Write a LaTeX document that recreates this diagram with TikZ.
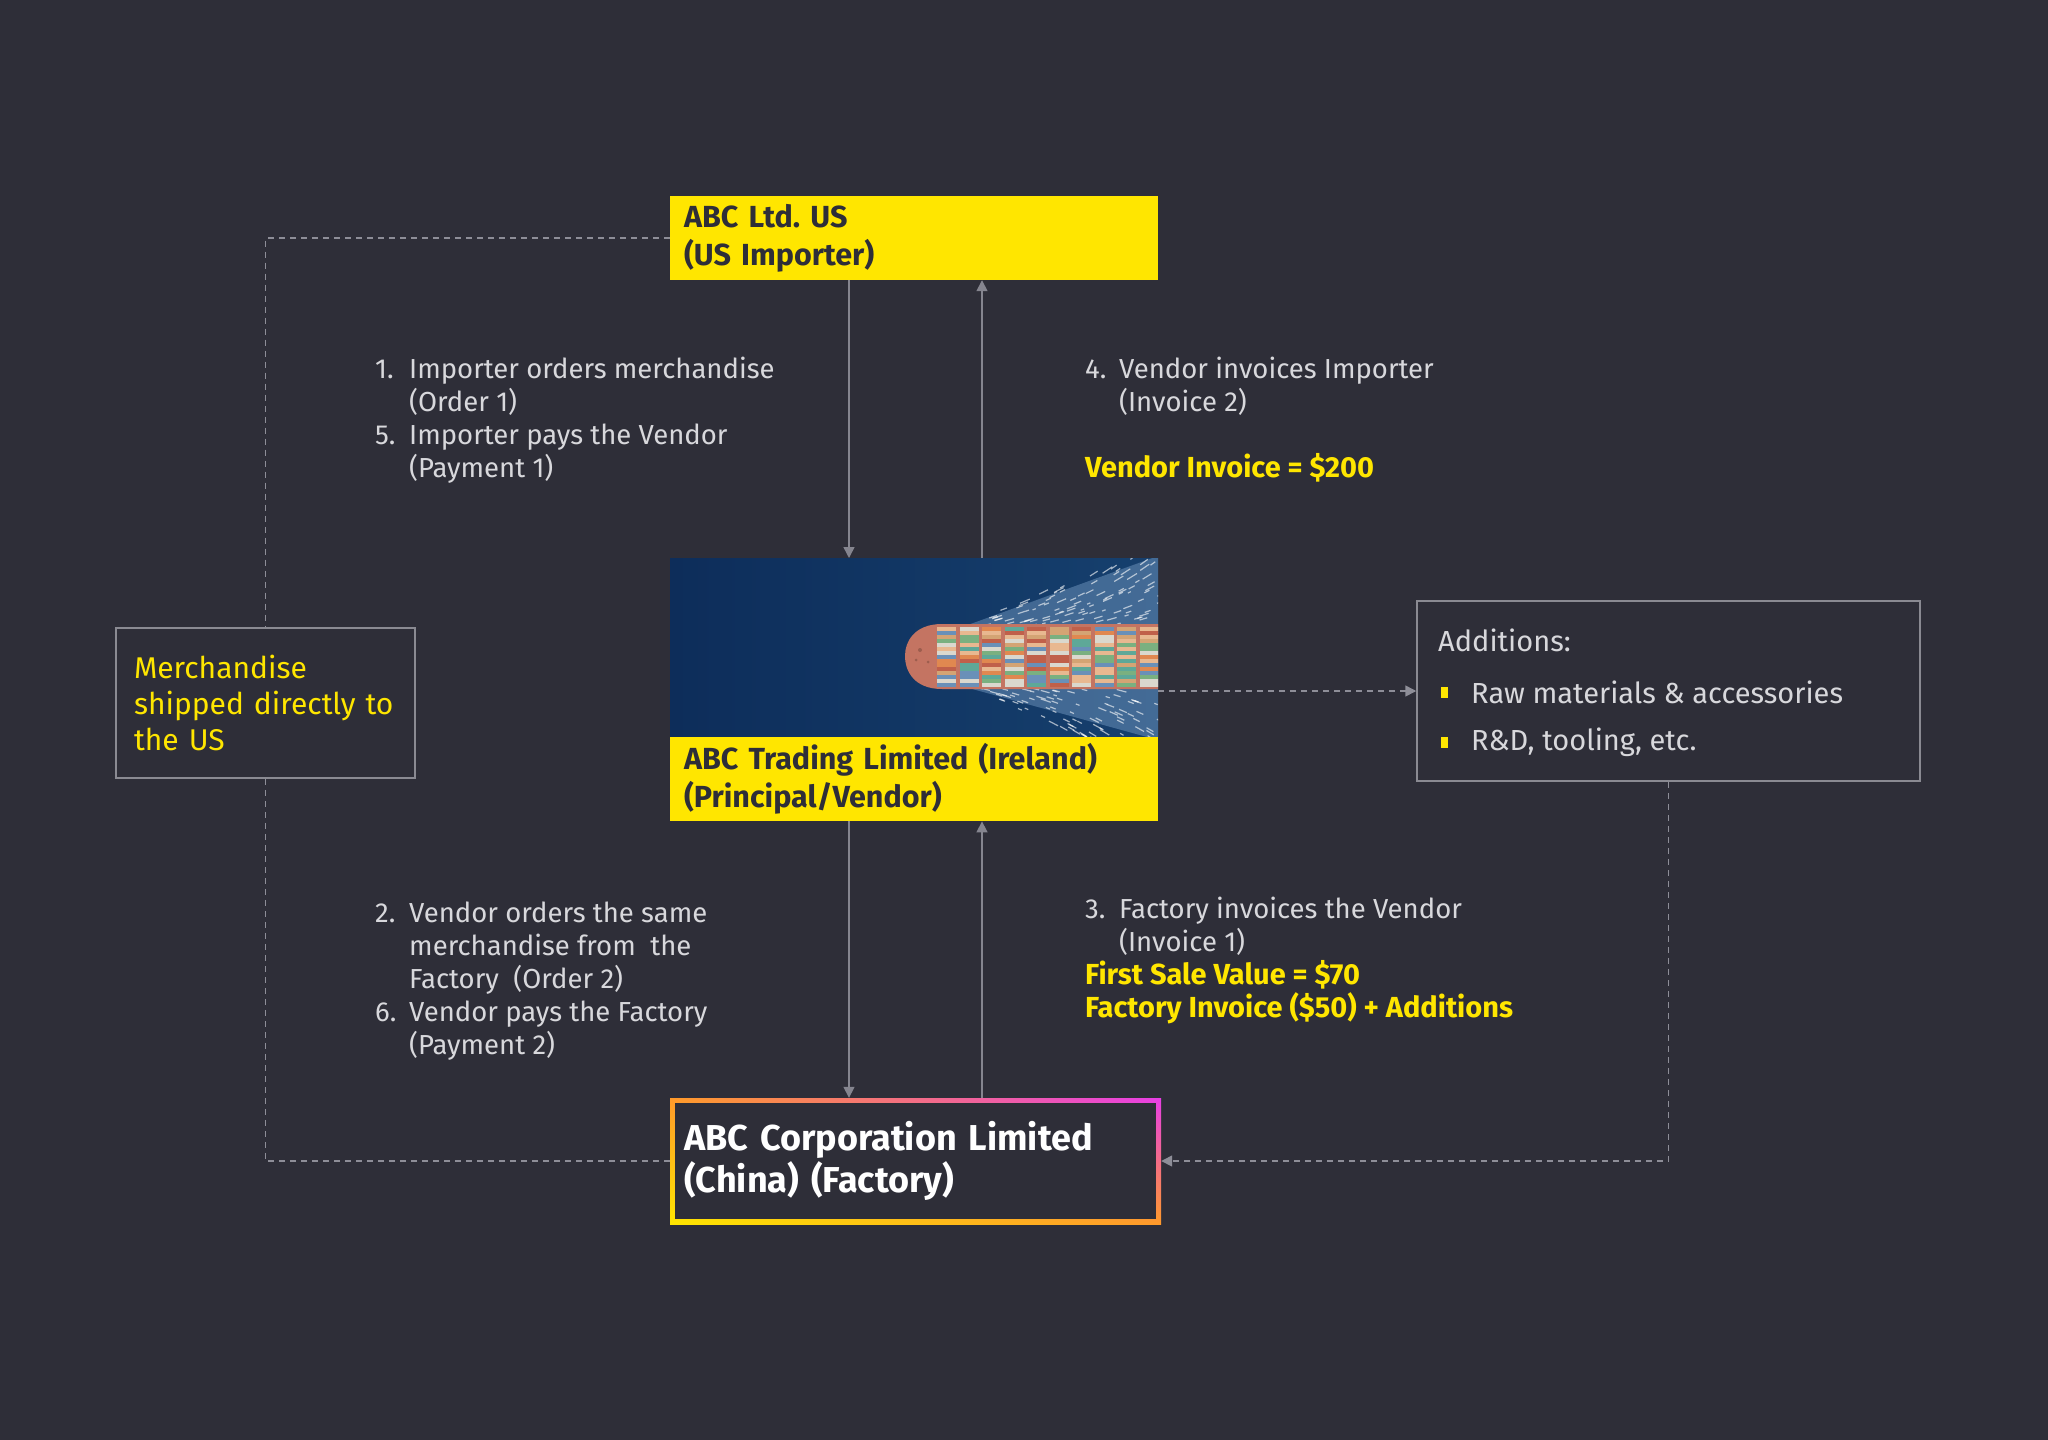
\documentclass[tikz,border=0pt]{standalone}
\usepackage{fontspec}
\setmainfont{Fira Sans}
\usetikzlibrary{arrows.meta,shadings,calc}
\definecolor{bg}{HTML}{2E2E38}
\definecolor{eyyellow}{HTML}{FFE600}
\definecolor{txt}{HTML}{D8D8DC}
\definecolor{arrline}{HTML}{85858F}
\definecolor{dashline}{HTML}{8E8E98}
\definecolor{boxline}{HTML}{8A8A92}
\definecolor{facOrange}{HTML}{FF9A2A}
\definecolor{facMagenta}{HTML}{E83EE6}
\definecolor{seaL}{HTML}{0D2D5A}
\definecolor{seaR}{HTML}{16406E}
\definecolor{wake}{HTML}{7096BE}
\definecolor{hull}{HTML}{C47462}
\definecolor{shipc0}{HTML}{E08850}
\definecolor{shipc1}{HTML}{DAD8CE}
\definecolor{shipc2}{HTML}{5EA898}
\definecolor{shipc3}{HTML}{C0604A}
\definecolor{shipc4}{HTML}{7AB080}
\definecolor{shipc5}{HTML}{6A90B8}
\definecolor{shipc6}{HTML}{D4A474}
\definecolor{shipc7}{HTML}{E8B890}
\newcommand\fl{\rule{0pt}{23pt}}
\newcommand\ind{\hspace*{34pt}}
\newcommand\num[1]{\makebox[34pt][l]{#1}}
\newcommand\yb[1]{{\color{eyyellow}\bfseries\fontsize{29}{33}\selectfont #1}}
\begin{document}
\begin{tikzpicture}[x=1pt,y=-1pt,
  ybox/.style={fill=eyyellow,text=bg,font=\bfseries\fontsize{30.5}{38}\selectfont,text width=460pt,align=left,minimum height=84pt,inner xsep=14pt,inner ysep=0pt},
  gbox/.style={draw=boxline,line width=1.5pt},
  arr/.style={draw=arrline,line width=1.5pt,-{Triangle[width=11pt,length=11pt]}},
  dsh/.style={draw=dashline,line width=1.5pt,dash pattern=on 6pt off 5pt},
  darr/.style={dsh,-{Triangle[width=11pt,length=11pt]}},
  body/.style={text=txt,font=\fontsize{27.5}{33}\selectfont,align=left,inner sep=0pt,anchor=north west},
  addtxt/.style={text=txt,font=\fontsize{29}{33}\selectfont,anchor=west,inner sep=0pt}
]
\fill[bg] (0,0) rectangle (2048,1440);
\useasboundingbox (0,0) rectangle (2048,1440);

% ---------- US importer ----------
\node[ybox] (imp) at (914,238) {\raisebox{-3pt}{ABC Ltd.\ US}\\\raisebox{-3pt}{(US Importer)}};

% ---------- Vendor block (image + label) ----------
\node[minimum width=488pt,minimum height=263pt,inner sep=0pt,anchor=north west] (vendor) at (670,558) {};
\begin{scope}
  \clip (670,558) rectangle (1158,737);
  \shade[left color=seaL,right color=seaR] (670,558) rectangle (1158,737);
  \fill[wake,opacity=0.5] (965,626) -- (1158,556) -- (1158,740) -- (965,687) -- cycle;
  \pgfmathsetseed{7}
  \foreach \k in {1,...,380}{
    \pgfmathsetmacro\wx{965+rnd*195}
    \pgfmathsetmacro\sp{(\wx-960)/198*80+30}
    \pgfmathsetmacro\wy{656+(2*rnd-1)*\sp}
    \pgfmathsetmacro\wl{3+rnd*7}
    \draw[white,opacity=0.6,line width=1.2pt] (\wx,\wy) -- ++(\wl,{(\wy-656)*0.04*\wl/5});
  }
  \fill[hull] (1158,624) -- (942,624) .. controls (914,624) and (905,642) .. (905,656)
        .. controls (905,671) and (914,689) .. (942,689) -- (1158,689) -- cycle;
  \fill[hull!80!black] (920,650) circle (2pt) (928,662) circle (1.5pt) (916,660) circle (1.5pt);
  \foreach \b in {0,...,9}{
    \pgfmathsetmacro\bx{937+\b*22.5}
    \foreach \s in {0,...,14}{
      \pgfmathrandominteger{\ci}{0}{7}
      \fill[shipc\ci] (\bx,627+\s*4) rectangle ++(19,3.6);
    }
  }
\end{scope}
\node[ybox] (vlab) at (914,779) {\raisebox{-3pt}{ABC Trading Limited (Ireland)}\\\raisebox{-3pt}{(Principal/Vendor)}};

% ---------- Factory ----------
\shade[upper left=facOrange,upper right=facMagenta,lower left=eyyellow,lower right=facOrange] (670,1098) rectangle (1161,1224);
\fill[bg] (675,1103) rectangle (1156,1219);
\node[text=white,font=\bfseries\fontsize{36}{42}\selectfont,text width=463pt,align=left,minimum width=491pt,minimum height=126pt,inner xsep=14pt,inner ysep=0pt] (fac) at (915.5,1161) {ABC Corporation Limited\\(China) (Factory)};

% ---------- Merchandise box ----------
\node[gbox,text=eyyellow,font=\fontsize{30}{36}\selectfont,align=left,text width=263pt,inner xsep=18pt,minimum height=150pt] (merch) at (265.5,703) {Merchandise\\shipped directly to\\the US};

% ---------- Additions box ----------
\node[gbox,minimum width=503pt,minimum height=180pt] (add) at (1668.5,691) {};
\node[addtxt] (addh) at (1438,640) {Additions:};
\fill[eyyellow] (1441,687) rectangle (1448,698);
\fill[eyyellow] (1441,737) rectangle (1448,748);
\node[addtxt] (add1) at (1471,692) {Raw materials \& accessories};
\node[addtxt] (add2) at (1471,742) {R\&D, tooling, etc.};

% ---------- Text blocks ----------
\node[body] (t1) at (375,355) {\fl\num{1.}Importer orders merchandise\\\ind(Order 1)\\\num{5.}Importer pays the Vendor\\\ind(Payment 1)};
\node[body] (t4) at (1085,355) {\fl\num{4.}Vendor invoices Importer\\\ind(Invoice 2)\\[33pt]\yb{Vendor Invoice = \$200}};
\node[body] (t2) at (375,899) {\fl\num{2.}Vendor orders the same\\\ind merchandise from~~the\\\ind Factory~~(Order 2)\\\num{6.}Vendor pays the Factory\\\ind(Payment 2)};
\node[body] (t3) at (1085,895) {\fl\num{3.}Factory invoices the Vendor\\\ind(Invoice 1)\\\yb{First Sale Value = \$70}\\\yb{Factory Invoice (\$50) + Additions}};

% ---------- Connectors ----------
\coordinate (xa) at (849,0);
\coordinate (xb) at (982,0);
\draw[arr] (imp.south -| xa) -- (vendor.north -| xa);
\draw[arr] (vendor.north -| xb) -- (imp.south -| xb);
\draw[arr] (vendor.south -| xa) -- (fac.north -| xa);
\draw[arr] (fac.north -| xb) -- (vendor.south -| xb);
\draw[dsh] (imp.west) -- (imp.west -| merch.north) -- (merch.north);
\draw[dsh] (merch.south) -- (merch.south |- fac.west) -- (fac.west);
\draw[darr] (vendor.east |- add.west) -- (add.west);
\draw[darr] (add.south) -- (add.south |- fac.east) -- (fac.east);
\end{tikzpicture}
\end{document}
